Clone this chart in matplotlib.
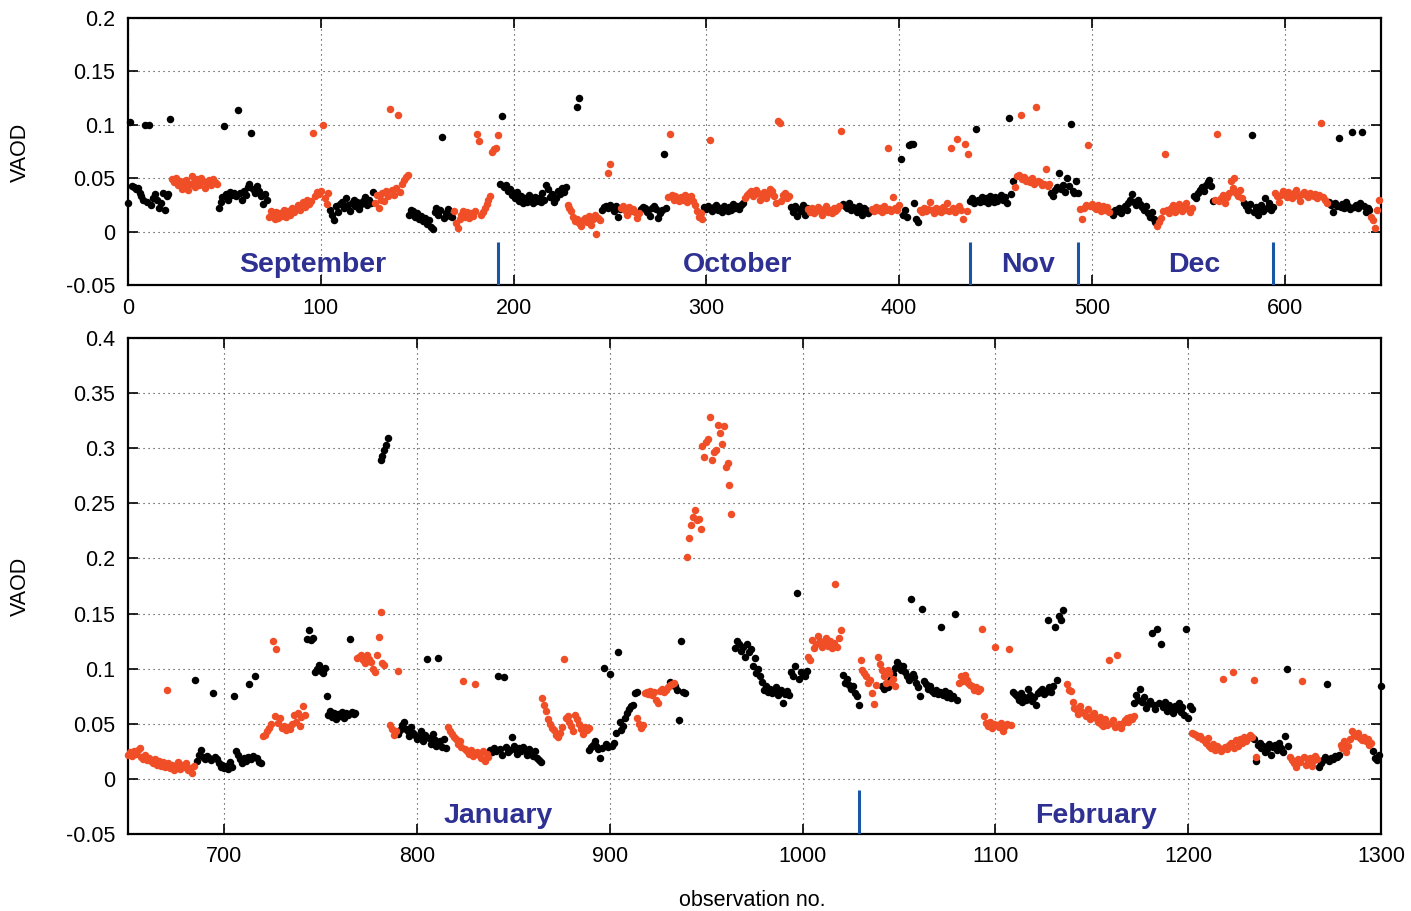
import matplotlib.pyplot as plt
import numpy as np

# %% Data: each run is (first observation number, consecutive VAOD values)

sep_dec_black = [
    (0, [.027, .103, .043, .042, .040, .041, .036, .033, .030, .100, .028, .100, .025, .031, .035, .030,
         .022, .027, .036, .020, .033, .035, .105]),
    (47, [.022, .028, .032, .099, .035, .030, .037, .034, .036, .033, .114, .036, .030, .038, .034, .042,
          .045, .092, .040, .036, .043, .038, .033, .026, .035, .030]),
    (105, [.020, .016, .011, .024, .018, .026, .028, .022, .031, .025, .019, .027, .030, .024, .028, .021,
           .026, .029, .032, .025, .030, .027, .037]),
    (146, [.016, .020, .019, .014, .017, .012, .015, .010, .013, .007, .011, .004, .002, .018, .022, .016,
           .020, .089, .013, .017, .021, .015, .014]),
    (193, [.045, .108, .042, .044, .038, .040, .034, .036, .031, .037, .029, .033, .027, .031, .028, .034,
           .030, .027, .032, .029, .031, .028, .036, .030, .044, .040, .032, .035, .028, .031, .038, .035,
           .041, .037, .042]),
    (233, [.117, .125]),
    (246, [.020, .023, .024, .022, .025, .023, .019, .024, .014, .021]),
    (266, [.021, .023, .022, .018, .020, .015, .022, .024, .021, .013, .017, .020, .073, .022]),
    (299, [.023, .021, .024, .022, .019, .023, .025, .020, .022, .018, .024, .021, .019, .023, .020, .026,
           .022, .024, .021, .025, .027]),
    (344, [.023, .018, .024, .015, .021, .019, .025, .016, .022]),
    (371, [.026, .024, .022, .027, .020, .023, .021, .018, .024, .019, .016, .022, .020, .017, .019]),
    (401, [.068, .016, .020, .014, .081, .082, .082, .027, .012, .009]),
    (437, [.029, .031, .027, .096, .030, .028, .032, .029, .031, .027, .033, .030, .028, .032, .029, .031,
           .034, .030, .032, .027, .106, .035, .047]),
    (479, [.036, .033, .039, .042, .055, .040, .044, .037, .050, .043, .101, .038, .036, .047, .036]),
    (510, [.018, .016, .020, .019, .022, .017, .021, .024, .020, .027, .030, .035, .028, .025, .030, .026,
           .023, .020, .024, .017, .014, .018, .012, .009]),
    (553, [.033, .031, .036, .039, .042, .038, .044, .046, .048, .043, .029]),
    (579, [.027, .024, .020, .026, .090, .018, .023, .016, .021, .025, .019, .031, .022, .027, .020, .023]),
    (623, [.028, .025, .018, .027, .024, .088, .023, .026, .022, .028, .024, .021, .093, .023, .025, .022,
           .027, .093, .024, .018, .022, .020]),
]

sep_dec_red = [
    (23, [.049, .046, .050, .044, .047, .040, .043, .048, .039, .045, .052, .046, .042, .049, .044, .050,
          .047, .041, .046, .048, .044, .049, .046, .045]),
    (73, [.014, .019, .016, .012, .018, .013, .017, .015, .020, .014, .019, .016, .022, .018, .021, .025,
          .020, .024, .028, .023, .030, .026, .029, .092, .033, .037, .035, .038, .100, .031, .026, .036]),
    (128, [.027, .034, .022, .030, .036, .029, .038, .033, .115, .039, .034, .041, .109, .037, .045, .048,
           .051, .053]),
    (169, [.019, .008, .003, .012, .016, .019, .014, .018, .013, .017, .015, .019, .091, .085, .016, .018,
           .022, .026, .030, .033, .075, .077, .078, .090]),
    (228, [.025, .022, .019, .014, .010, .012, .008, .005, .011, .013, .009, .015, .006, .012, .016, -.002,
           .013, .011]),
    (249, [.055, .063]),
    (256, [.022, .024, .020, .016, .023, .019, .021, .018, .013, .017]),
    (280, [.032, .091, .034, .030, .033, .031, .029, .032, .030, .034, .028, .031, .033, .029, .025, .019,
           .014, .017, .012]),
    (302, [.086]),
    (320, [.031, .034, .036, .038, .033, .035, .039, .036, .030, .034, .037, .031, .035, .040, .038, .033,
           .027, .104, .102, .029, .034, .036, .031, .033]),
    (353, [.021, .018, .022, .017, .020, .023, .019, .016, .021, .024, .018, .020, .017, .022, .019, .021,
           .024, .094]),
    (386, [.021, .019, .023, .020, .022, .018, .024, .020, .078, .021, .019, .032, .022, .020, .025]),
    (411, [.020, .018, .022, .019, .021, .028, .020, .017, .022, .019, .021, .018, .023, .020, .027, .019,
           .078, .022, .018, .087, .024, .020, .012, .082, .019, .073]),
    (460, [.042, .052, .053, .109, .049, .051, .047, .048, .046, .050, .045, .117, .047, .046, .044, .045,
           .059, .043, .045]),
    (494, [.021, .012, .022, .025, .081, .024, .026, .023, .021, .025, .022, .019, .024, .020, .023, .018]),
    (534, [.005, .009, .013, .019, .073, .020, .017, .022, .025, .018, .021, .026, .023, .019, .024, .027,
           .021, .018, .022]),
    (564, [.030, .091, .029, .031, .034, .027, .032, .036, .047, .041, .050, .036, .033, .039, .031]),
    (595, [.036, .033, .028, .034, .038, .035, .032, .037, .034, .031, .036, .039, .033, .029, .035, .037,
           .034, .032, .036, .034, .033, .035, .031, .034, .102, .032, .030, .027]),
    (645, [.014, .011, .003, .020, .030]),
]

jan_feb_black = [
    (685, [.090, .016, .022, .026, .020, .018, .021, .019, .017, .078, .020, .018, .014, .011, .013, .010,
           .012, .009, .015, .011, .075, .025, .022, .018, .014, .019, .016, .020, .086, .018, .021, .093,
           .019, .015, .014]),
    (743, [.127, .135, .126, .128, .097, .100, .103, .098, .096, .101, .075, .058, .062, .056, .060, .054,
           .059, .057, .061, .055, .060, .058, .127, .061, .059, .060]),
    (781, [.289, .293, .298, .303, .309]),
    (790, [.041, .044, .049, .052, .045, .043, .039, .047, .042, .040, .036, .038, .043, .034, .040, .109,
           .037, .032, .041, .035, .030, .110, .034, .029, .036, .028]),
    (838, [.026, .024, .028, .025, .093, .027, .022, .092, .029, .024, .026, .038, .030, .027, .023, .028,
           .025, .029, .026, .022, .027, .024, .021, .025, .019, .017, .015]),
    (889, [.026, .029, .031, .034, .030, .027, .019, .028, .101, .032, .029, .095, .030, .033, .042, .115,
           .052, .044, .048, .055, .060, .063, .066, .067, .078, .079]),
    (931, [.088, .085, .086, .084, .081, .053, .125, .079, .078]),
    (965, [.119, .125, .122, .116, .120, .111, .122, .115, .118, .102, .110, .096, .100, .093, .088, .081,
           .084, .079, .082, .078, .080, .083, .076, .079, .081, .069, .077, .080, .076, .097, .093, .102,
           .169, .091, .097, .095, .093, .098]),
    (1021, [.094, .087, .091, .085, .082, .084, .078, .075, .067]),
    (1041, [.084, .082, .086, .083, .088, .091, .095, .101, .106, .103, .099, .102, .097, .093, .090, .163,
            .095, .092, .087, .083, .075, .154, .089, .086, .082, .084, .080, .078, .081, .077, .079, .138,
            .076, .080, .074, .078, .073, .075, .150, .072]),
    (1109, [.079, .077, .075, .072, .078, .070, .074, .072, .082, .076, .071, .074, .067, .078, .080, .082,
            .077, .079, .144, .083, .079, .084, .138, .090, .148]),
    (1134, [.144, .153]),
    (1172, [.069, .076, .072, .082, .070, .074, .064, .068, .071, .132, .067, .063, .136, .069, .122, .065,
            .070, .062, .067, .064, .060, .066, .063, .069, .061, .065, .058, .136, .055, .066, .063]),
    (1234, [.036, .016, .031, .033, .028, .030, .024, .027, .032, .022, .029, .031, .026, .033, .028, .024,
            .039, .100, .030]),
    (1268, [.011, .014, .017, .020, .086, .016, .019, .018, .021, .020, .022]),
    (1296, [.025, .019, .017, .022, .084]),
]

jan_feb_red = [
    (650, [.022, .024, .021, .025, .023, .026, .028, .020, .018, .022, .017, .019, .016, .014, .018, .013,
           .016, .012, .015, .011, .081, .014, .010, .013, .008, .012, .015, .009, .013, .011, .014, .008,
           .010, .005, .012]),
    (720, [.039, .040, .043, .046, .050, .125, .057, .118, .051, .055, .046, .048, .044, .047, .045, .050,
           .058, .052, .060, .048, .056, .066, .058]),
    (769, [.110, .111, .112, .108, .105, .112, .109, .106, .100, .097, .112, .129, .151, .105, .103]),
    (786, [.049, .045, .040, .043, .098]),
    (816, [.047, .043, .041, .038, .036, .032, .034, .029, .089, .027, .025, .023, .026, .021, .086, .024,
           .022, .019, .025, .016, .023, .020]),
    (865, [.073, .067, .062, .054, .050, .046, .044, .040, .038, .042, .047, .109, .055, .057, .052, .048,
           .043, .058, .054, .050, .045, .041, .047, .044, .046]),
    (914, [.055, .050, .046, .049, .078, .079, .077, .080, .076, .079, .072, .069, .080, .082, .079, .081,
           .083, .085, .086, .087]),
    (940, [.201, .219, .230, .238, .244, .235, .236, .227, .302, .292, .306, .308, .328, .289, .297, .298,
           .321, .314, .304, .320, .283, .287, .267, .240]),
    (1003, [.111, .108, .126, .119, .122, .130, .125, .120, .123, .128, .121, .125, .119, .123, .177, .120,
            .128, .135]),
    (1030, [.108, .099, .096, .093, .087, .090, .078, .068, .085, .111, .104, .099, .093, .087, .099, .096,
            .088, .091, .084]),
    (1081, [.087, .093, .089, .094, .090, .087, .085, .084, .081, .083, .080, .082]),
    (1093, [.136, .057, .051, .048, .052, .046, .050, .120, .049, .047, .051, .043, .048, .050, .118, .049]),
    (1137, [.086, .081, .080, .070, .064, .063, .059, .066, .061, .060, .057, .063, .054, .058, .060, .055,
            .052, .056, .050, .048, .054, .049, .108, .051, .053, .047, .112, .050, .046, .051, .053, .055,
            .052, .056, .054, .057]),
    (1202, [.042, .041, .040, .038, .039, .036, .035, .033, .037, .030, .028, .032, .026, .030, .028, .025,
            .091, .029, .027, .031, .033, .097, .028, .035, .030, .036, .033, .038, .034, .037, .040, .038]),
    (1234, [.090, .020]),
    (1253, [.020, .017, .014, .011, .018, .015, .089, .020, .013, .016, .019, .012, .017, .021, .018]),
    (1279, [.031, .028, .034, .024, .030, .036, .043, .041, .039, .042, .037, .035, .038, .034, .036, .031,
            .033]),
]

top_months = ["September", "October", "Nov", "Dec"]
top_month_centres = [96, 316, 467, 553]
top_month_bounds = [192, 437, 493, 594]
bottom_months = ["January", "February"]
bottom_month_centres = [842, 1152]
bottom_month_bounds = [1029]

top_xticks = [0, 100, 200, 300, 400, 500, 600]
top_yticks = [-0.05, 0, 0.05, 0.1, 0.15, 0.2]
bottom_xticks = [700, 800, 900, 1000, 1100, 1200, 1300]
bottom_yticks = [-0.05, 0, 0.05, 0.1, 0.15, 0.2, 0.25, 0.3, 0.35, 0.4]

RED = "#f04e26"
BLACK = "black"
MONTH_COLOUR = "#2e3192"
BOUND_COLOUR = "#1a56a8"

# %% Plot

plt.rcParams["font.family"] = ["Liberation Sans", "DejaVu Sans"]
plt.rcParams["font.size"] = 15.5

fig = plt.figure(figsize=(14.11, 9.11), dpi=100)
ax_top = fig.add_axes([128 / 1411, 1 - 285 / 911, 1253 / 1411, 267 / 911])
ax_bot = fig.add_axes([128 / 1411, 1 - 834 / 911, 1253 / 1411, 496 / 911])


def draw_runs(ax, runs, colour):
    for first, values in runs:
        ax.plot(np.arange(first, first + len(values)), values, "o", color=colour,
                ms=5.4, mew=0, zorder=3, clip_on=False)


def style(ax, xlim, xticks, ylim, yticks):
    ax.set_xlim(xlim)
    ax.set_ylim(ylim)
    ax.set_xticks(xticks)
    ax.set_yticks(yticks)
    ax.set_yticklabels([f"{t:g}" for t in yticks])
    ax.tick_params(direction="in", length=7, width=1.2, top=True, right=True)
    ax.tick_params(axis="x", pad=9)
    ax.tick_params(axis="y", pad=9)
    ax.grid(True, color="#333333", linestyle=(0, (1, 3.5)), linewidth=0.8)
    for s in ax.spines.values():
        s.set_linewidth(1.6)


draw_runs(ax_top, sep_dec_black, BLACK)
draw_runs(ax_top, sep_dec_red, RED)
style(ax_top, (0, 650), top_xticks, (-0.05, 0.2), top_yticks)
ax_top.vlines(top_month_bounds, -0.05, -0.0095, color=BOUND_COLOUR, lw=2.2, zorder=4)
for name, xc in zip(top_months, top_month_centres):
    ax_top.text(xc, -0.031, name, ha="center", va="center", color=MONTH_COLOUR,
                fontweight="bold", fontsize=20.5)

draw_runs(ax_bot, jan_feb_black, BLACK)
draw_runs(ax_bot, jan_feb_red, RED)
style(ax_bot, (650, 1300), bottom_xticks, (-0.05, 0.4), bottom_yticks)
ax_bot.vlines(bottom_month_bounds, -0.05, -0.01, color=BOUND_COLOUR, lw=2.2, zorder=4)
for name, xc in zip(bottom_months, bottom_month_centres):
    ax_bot.text(xc, -0.034, name, ha="center", va="center", color=MONTH_COLOUR,
                fontweight="bold", fontsize=20.5)

fig.text(20 / 1411, 1 - 152 / 911, "VAOD", rotation=90, ha="center", va="center")
fig.text(20 / 1411, 1 - 586 / 911, "VAOD", rotation=90, ha="center", va="center")
fig.text(752 / 1411, 1 - 900 / 911, "observation no.", ha="center", va="center")

fig.savefig("out.png", dpi=100)
